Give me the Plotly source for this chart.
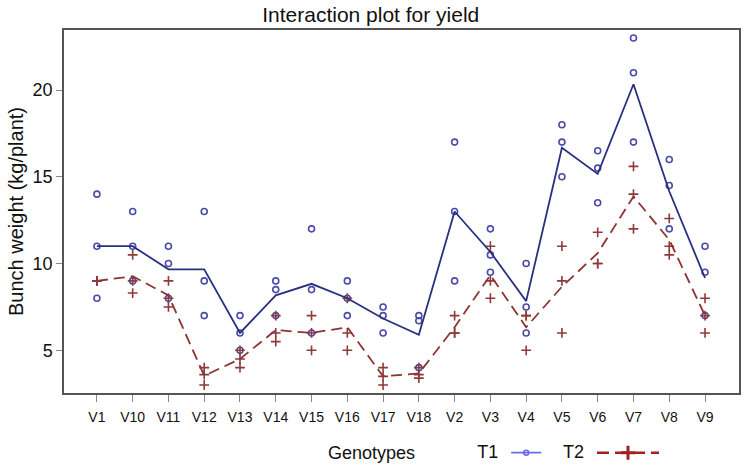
import numpy as np
import plotly.graph_objects as go

genotypes = ["V1", "V10", "V11", "V12", "V13", "V14", "V15", "V16", "V17",
             "V18", "V2", "V3", "V4", "V5", "V6", "V7", "V8", "V9"]

# T1 replicates (kg/plant)
t1_rep1 = [14, 13, 11, 13, 7, 9, 12, 9, 7.5, 7, 17, 12, 10, 18, 16.5, 23, 16, 11]
t1_rep2 = [11, 11, 10, 9, 6, 8.5, 8.5, 8, 7, 6.7, 13, 10.5, 7.5, 17, 15.5, 21, 14.5, 9.5]
t1_rep3 = [8, 9, 8, 7, 5, 7, 6, 7, 6, 4, 9, 9.5, 6, 15, 13.5, 17, 12, 7]

# T2 replicates (kg/plant)
t2_rep1 = [9, 10.5, 9, 4, 5, 7, 7, 8, 4, 4, 7, 11, 7, 11, 11.8, 15.6, 12.6, 8]
t2_rep2 = [9, 9, 8, 3.6, 4.5, 6, 6, 6, 3.5, 3.6, 6, 9, 7, 9, 10, 14, 11, 7]
t2_rep3 = [9, 8.3, 7.5, 3, 4, 5.5, 5, 5, 3, 3.4, 6, 8, 5, 6, 10, 12, 10.5, 6]

t1_mean = np.mean([t1_rep1, t1_rep2, t1_rep3], axis=0)
t2_mean = np.mean([t2_rep1, t2_rep2, t2_rep3], axis=0)

blue_line = "#29307F"
blue_pt = "#4A4AA8"
red_line = "#8E3232"
red_pt = "#8E3A3A"

fig = go.Figure()

x_all = genotypes * 3
fig.add_trace(go.Scatter(
    x=x_all, y=t1_rep1 + t1_rep2 + t1_rep3, mode="markers",
    marker=dict(symbol="circle-open", size=6, color=blue_pt, line=dict(width=1.6, color=blue_pt)),
    showlegend=False, hoverinfo="skip"))
fig.add_trace(go.Scatter(
    x=x_all, y=t2_rep1 + t2_rep2 + t2_rep3, mode="markers",
    marker=dict(symbol="cross-thin-open", size=7, color=red_pt, line=dict(width=1.6, color=red_pt)),
    showlegend=False, hoverinfo="skip"))
fig.add_trace(go.Scatter(
    x=genotypes, y=t1_mean, mode="lines",
    line=dict(color=blue_line, width=1.8), showlegend=False))
fig.add_trace(go.Scatter(
    x=genotypes, y=t2_mean, mode="lines",
    line=dict(color=red_line, width=1.8, dash="11px,6px"), showlegend=False))

# legend-only entries
fig.add_trace(go.Scatter(
    x=[None], y=[None], mode="lines+markers", name="",
    line=dict(color="#6A6AF0", width=1.8),
    marker=dict(symbol="circle-open", size=5, color="#6A6AF0", line=dict(width=1.5)),
    legend="legend"))
fig.add_trace(go.Scatter(
    x=[None], y=[None], mode="lines+markers", name="",
    line=dict(color="#A02222", width=2.5, dash="12px,6px"),
    marker=dict(symbol="cross-thin-open", size=10, color="#A02222", line=dict(width=3)),
    legend="legend2"))

fig.update_layout(
    width=746, height=467,
    margin=dict(l=64, r=7, t=30, b=74, autoexpand=False),
    paper_bgcolor="white", plot_bgcolor="white",
    font=dict(family="Liberation Sans, Arial, sans-serif", color="#111"),
    title=dict(text="Interaction plot for yield", x=0.497, xref="container",
               y=0.969, yref="container", yanchor="middle",
               font=dict(size=21, color="#111")),
    xaxis=dict(
        type="category", range=[-0.92, 17.95], automargin=False,
        showline=True, mirror=True, linecolor="#555", linewidth=1.5,
        ticks="outside", ticklen=7, tickcolor="#888", tickwidth=1.2,
        tickfont=dict(size=14), ticklabelstandoff=3,
        showgrid=False, zeroline=False),
    yaxis=dict(
        range=[2.54, 23.46], automargin=False,
        tickvals=[5, 10, 15, 20],
        showline=True, mirror=True, linecolor="#555", linewidth=1.5,
        ticks="outside", ticklen=6, tickcolor="#888", tickwidth=1.2,
        tickfont=dict(size=18),
        title=dict(text="Bunch weight (kg/plant)", font=dict(size=20), standoff=4),
        showgrid=False, zeroline=False),
    legend=dict(
        title=dict(text="T1", side="left", font=dict(size=18)),
        orientation="h", x=0.637, xanchor="left", y=0.030, yanchor="middle",
        xref="container", yref="container", bgcolor="rgba(0,0,0,0)", itemwidth=30,
        font=dict(size=18)),
    legend2=dict(
        title=dict(text="T2", side="left", font=dict(size=18)),
        orientation="h", x=0.752, xanchor="left", y=0.030, yanchor="middle",
        xref="container", yref="container", bgcolor="rgba(0,0,0,0)", itemwidth=62,
        font=dict(size=18)),
    annotations=[dict(text="Genotypes", x=0.455, xref="paper", y=-0.166, yref="paper",
                      showarrow=False, xanchor="center", yanchor="middle",
                      font=dict(size=18, color="#111"))],
)

fig.write_html("out.html", config={"displayModeBar": False},
               post_script="document.body.style.margin='0px';")
